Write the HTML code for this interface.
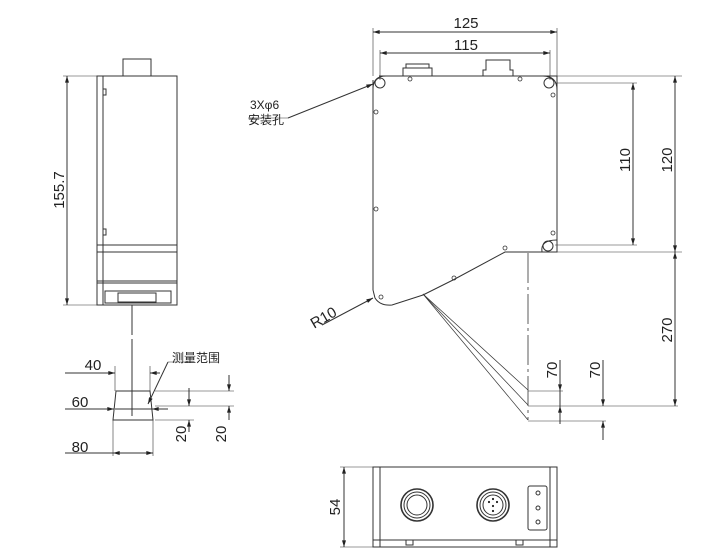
<!DOCTYPE html>
<html><head><meta charset="utf-8"><style>
html,body{margin:0;padding:0;background:#fff;}
svg{display:block;}
text{font-family:"Liberation Sans","Noto Sans CJK SC",sans-serif;fill:#222;}
</style></head><body>
<svg width="717" height="560" viewBox="0 0 717 560" xmlns="http://www.w3.org/2000/svg">
<defs>
<marker id="a" viewBox="0 0 10 6" refX="10" refY="3" markerWidth="8" markerHeight="4" orient="auto-start-reverse" markerUnits="userSpaceOnUse"><path d="M0,0L10,3L0,6z" fill="#222"/></marker>
</defs>
<g fill="none" stroke="#333" stroke-width="1">
<rect x="123" y="59" width="28" height="17"/>
<rect x="97" y="76" width="80" height="229"/>
<line x1="103" y1="76" x2="103" y2="305"/>
<line x1="97" y1="245" x2="177" y2="245"/>
<line x1="97" y1="252" x2="177" y2="252"/>
<line x1="97" y1="281" x2="177" y2="281"/>
<line x1="97" y1="283" x2="177" y2="283"/>
<rect x="103" y="89" width="3" height="6"/>
<rect x="103" y="229" width="3" height="6"/>
<rect x="118" y="293" width="38" height="9"/>
<rect x="105" y="291" width="66" height="12"/>
<line x1="132" y1="305" x2="132" y2="400" stroke-dasharray="30,4,3,4"/>
<line x1="63" y1="76" x2="97" y2="76" stroke-width="0.6"/>
<line x1="63" y1="305" x2="97" y2="305" stroke-width="0.6"/>
<line x1="67" y1="76" x2="67" y2="305" marker-start="url(#a)" marker-end="url(#a)"/>
<line x1="132" y1="340" x2="132" y2="420" stroke-dasharray="18,4,3,4"/>
<path d="M116,391 L150,391 L153,420 L113,420 Z"/>
<line x1="115" y1="366" x2="115" y2="391" stroke-width="0.6"/>
<line x1="150" y1="366" x2="150" y2="391" stroke-width="0.6"/>
<line x1="65" y1="373" x2="115" y2="373" marker-end="url(#a)"/>
<line x1="150" y1="373" x2="160" y2="373" marker-start="url(#a)"/>
<line x1="65" y1="409" x2="114" y2="409" marker-end="url(#a)"/>
<line x1="115" y1="409" x2="152" y2="409"/>
<line x1="152" y1="409" x2="168" y2="409" marker-start="url(#a)"/>
<line x1="113" y1="420" x2="113" y2="456" stroke-width="0.6"/>
<line x1="153" y1="420" x2="153" y2="456" stroke-width="0.6"/>
<line x1="65" y1="453" x2="113" y2="453"/>
<line x1="113" y1="453" x2="153" y2="453" marker-start="url(#a)" marker-end="url(#a)"/>
<line x1="155" y1="391" x2="234" y2="391" stroke-width="0.6"/>
<line x1="155" y1="406" x2="234" y2="406" stroke-width="0.6"/>
<line x1="155" y1="420" x2="194" y2="420" stroke-width="0.6"/>
<line x1="189" y1="388" x2="189" y2="406" marker-end="url(#a)"/>
<line x1="189" y1="420" x2="189" y2="432" marker-start="url(#a)"/>
<line x1="229" y1="375" x2="229" y2="391" marker-end="url(#a)"/>
<line x1="229" y1="406" x2="229" y2="420" marker-start="url(#a)"/>
<line x1="148" y1="404" x2="168" y2="362" marker-start="url(#a)"/>
<line x1="168" y1="362" x2="188" y2="362" stroke-width="0.6"/>
<rect x="403" y="68" width="29" height="8"/>
<rect x="406" y="64" width="23" height="4"/>
<path d="M483,76 L483,70 L486,70 L486,60 L510,60 L510,70 L513,70 L513,76"/>
<path d="M379,76 L557,76 L557,252 L505,252 L453,280 L423,295 L392,305 Q380,306 375,298 L373,290 L373,80"/>
<circle cx="380" cy="83" r="5"/><circle cx="549" cy="83" r="5"/><circle cx="548" cy="246" r="5"/>
<path d="M373,89 Q373,76 386,76"/><path d="M557,90 Q557,76 543,76"/><path d="M557,240 Q540,240 542,252"/>
<g stroke-width="0.8">
<circle cx="410" cy="79" r="2"/><circle cx="520" cy="79" r="2"/><circle cx="553" cy="95" r="2"/>
<circle cx="376" cy="112" r="2"/><circle cx="376" cy="209" r="2"/><circle cx="553" cy="233" r="2"/>
<circle cx="505" cy="248" r="2"/><circle cx="454" cy="278" r="2"/><circle cx="381" cy="297" r="2"/>
</g>
<line x1="373" y1="28" x2="373" y2="76" stroke-width="0.6"/>
<line x1="557" y1="28" x2="557" y2="76" stroke-width="0.6"/>
<line x1="380" y1="50" x2="380" y2="80" stroke-width="0.6"/>
<line x1="550" y1="50" x2="550" y2="80" stroke-width="0.6"/>
<line x1="373" y1="32" x2="557" y2="32" marker-start="url(#a)" marker-end="url(#a)"/>
<line x1="380" y1="53" x2="550" y2="53" marker-start="url(#a)" marker-end="url(#a)"/>
<line x1="557" y1="76" x2="682" y2="76" stroke-width="0.6"/>
<line x1="555" y1="83" x2="637" y2="83" stroke-width="0.6"/>
<line x1="555" y1="245" x2="637" y2="245" stroke-width="0.6"/>
<line x1="505" y1="252" x2="682" y2="252" stroke-width="0.6"/>
<line x1="633" y1="83" x2="633" y2="245" marker-start="url(#a)" marker-end="url(#a)"/>
<line x1="675" y1="76" x2="675" y2="252" marker-start="url(#a)" marker-end="url(#a)"/>
<line x1="675" y1="252" x2="675" y2="406" marker-start="url(#a)" marker-end="url(#a)"/>
<line x1="288" y1="118" x2="373" y2="84" marker-end="url(#a)"/>
<line x1="248" y1="118" x2="288" y2="118" stroke-width="0.6"/>
<line x1="322" y1="325" x2="373" y2="298" marker-end="url(#a)"/>
<line x1="528" y1="253" x2="528" y2="420" stroke-dasharray="30,4,3,4" stroke-width="0.8"/>
<line x1="423" y1="294" x2="528" y2="390" stroke-width="0.7"/>
<line x1="423" y1="294" x2="528" y2="405" stroke-width="0.7"/>
<line x1="423" y1="294" x2="528" y2="420" stroke-width="0.7"/>
<line x1="528" y1="391" x2="563" y2="391" stroke-width="0.6"/>
<line x1="528" y1="406" x2="678" y2="406" stroke-width="0.6"/>
<line x1="528" y1="421" x2="606" y2="421" stroke-width="0.6"/>
<line x1="560" y1="360" x2="560" y2="391" marker-end="url(#a)"/>
<line x1="560" y1="391" x2="560" y2="424"/>
<line x1="560" y1="424" x2="560" y2="406" marker-end="url(#a)"/>
<line x1="603" y1="360" x2="603" y2="406" marker-end="url(#a)"/>
<line x1="603" y1="440" x2="603" y2="421" marker-end="url(#a)"/>
<rect x="373" y="467" width="184" height="80"/>
<line x1="380" y1="467" x2="380" y2="547"/>
<line x1="550" y1="467" x2="550" y2="547"/>
<line x1="373" y1="540" x2="557" y2="540"/>
<rect x="406" y="540" width="7" height="5"/><rect x="516" y="540" width="7" height="5"/>
<circle cx="417" cy="505" r="16" stroke-width="1.6"/><circle cx="417" cy="505" r="13"/><circle cx="417" cy="505" r="10"/>
<circle cx="493" cy="505" r="16" stroke-width="1.6"/><circle cx="493" cy="505" r="13"/><circle cx="493" cy="505" r="10"/>
<rect x="528" y="486" width="19" height="44" rx="2"/>
<circle cx="538" cy="493" r="2"/><circle cx="538" cy="508" r="2"/><circle cx="538" cy="522" r="2"/>
<line x1="340" y1="467" x2="373" y2="467" stroke-width="0.6"/>
<line x1="340" y1="547" x2="373" y2="547" stroke-width="0.6"/>
<line x1="344" y1="467" x2="344" y2="547" marker-start="url(#a)" marker-end="url(#a)"/>
</g>
<g fill="#222" stroke="none">
<circle cx="489" cy="502" r="1.1"/><circle cx="497" cy="502" r="1.1"/><circle cx="493" cy="506" r="1.1"/><circle cx="493" cy="511" r="1.1"/><circle cx="493" cy="499" r="1.1"/>
</g>
<g font-size="15">
<text x="64" y="190" transform="rotate(-90 64 190)" text-anchor="middle">155.7</text>
<text x="93" y="370" text-anchor="middle">40</text>
<text x="80" y="407" text-anchor="middle">60</text>
<text x="80" y="452" text-anchor="middle">80</text>
<text x="186" y="434" transform="rotate(-90 186 434)" text-anchor="middle">20</text>
<text x="226" y="434" transform="rotate(-90 226 434)" text-anchor="middle">20</text>
<text x="466" y="28" text-anchor="middle">125</text>
<text x="466" y="50" text-anchor="middle">115</text>
<text x="630" y="160" transform="rotate(-90 630 160)" text-anchor="middle">110</text>
<text x="672" y="160" transform="rotate(-90 672 160)" text-anchor="middle">120</text>
<text x="672" y="330" transform="rotate(-90 672 330)" text-anchor="middle">270</text>
<text x="557" y="370" transform="rotate(-90 557 370)" text-anchor="middle">70</text>
<text x="600" y="370" transform="rotate(-90 600 370)" text-anchor="middle">70</text>
<text x="340" y="507" transform="rotate(-90 340 507)" text-anchor="middle">54</text>
<text x="326" y="322" transform="rotate(-30 326 322)" text-anchor="middle">R10</text>
</g>
<text x="172" y="362" font-size="12">测量范围</text>
<text x="250" y="109" font-size="12">3Xφ6</text>
<text x="248" y="124" font-size="12">安装孔</text>
</svg>
</body></html>
